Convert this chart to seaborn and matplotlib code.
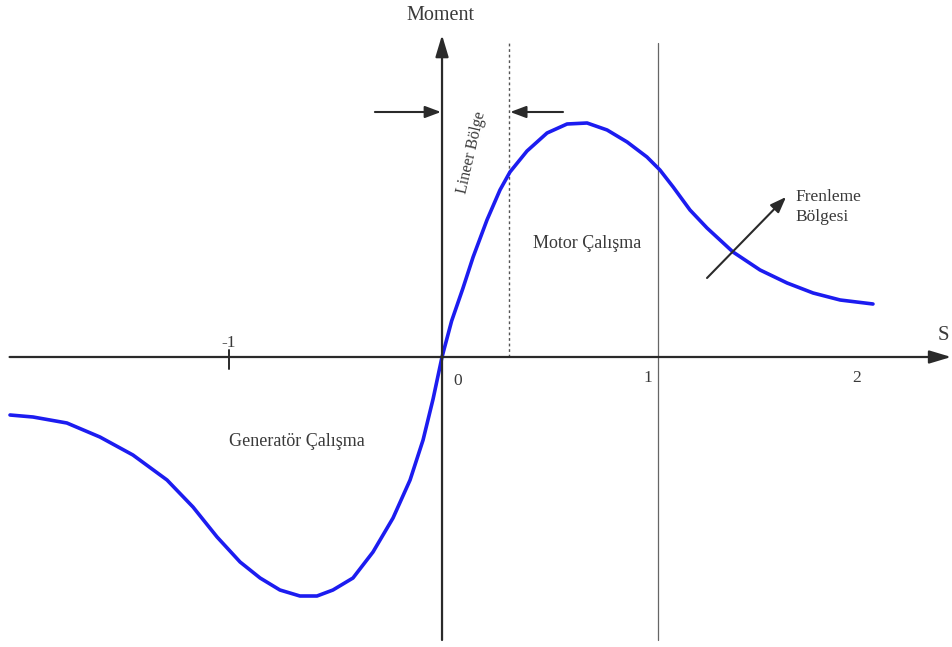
import matplotlib
matplotlib.use("Agg")
import matplotlib.pyplot as plt
import seaborn as sns
import pandas as pd

# Slip (s) and torque (moment) values
slip = [-2.028, -1.920, -1.761, -1.606, -1.451, -1.291, -1.169, -1.056, -0.948,
        -0.854, -0.761, -0.667, -0.587, -0.512, -0.418, -0.324, -0.230, -0.150,
        -0.089, -0.042, 0.0, 0.045, 0.097, 0.146, 0.211, 0.272, 0.319,
        0.399, 0.493, 0.587, 0.681, 0.775, 0.869, 0.962, 1.023, 1.085, 1.164,
        1.244, 1.366, 1.493, 1.620, 1.742, 1.869, 2.023]
moment = [-0.58, -0.60, -0.66, -0.80, -0.98, -1.23, -1.50, -1.80, -2.05,
          -2.21, -2.33, -2.39, -2.39, -2.33, -2.21, -1.95, -1.61, -1.23,
          -0.83, -0.42, 0.0, 0.36, 0.68, 1.00, 1.37, 1.67, 1.85,
          2.06, 2.24, 2.33, 2.34, 2.27, 2.15, 2.00, 1.87, 1.70, 1.47,
          1.29, 1.05, 0.87, 0.74, 0.64, 0.57, 0.53]

tick_values = [-1, 0, 1, 2]
tick_labels = ["-1", "0", "1", "2"]
linear_limit = 0.315
rated_slip = 1.014

sns.set_theme(style="white")
plt.rcParams['font.family'] = ['Liberation Serif', 'DejaVu Serif']

fig = plt.figure(figsize=(9.52, 6.47), dpi=100)
ax = fig.add_axes([0, 0, 1, 1])
ax.set_xlim(-2.075, 2.394)
ax.set_ylim(-2.90, 3.57)
ax.set_axis_off()

txt = "#3a3a3a"
axc = "#2a2a2a"

# axes with arrows
ax.annotate("", xy=(2.39, 0), xytext=(-2.03, 0),
            arrowprops=dict(arrowstyle="-|>,head_length=1.1,head_width=0.33",
                            color=axc, lw=1.6, shrinkA=0, shrinkB=0))
ax.annotate("", xy=(0, 3.22), xytext=(0, -2.83),
            arrowprops=dict(arrowstyle="-|>,head_length=1.1,head_width=0.33",
                            color=axc, lw=1.6, shrinkA=0, shrinkB=0))
# tick at -1
ax.plot([-1, -1], [0.07, -0.12], color=axc, lw=1.4)

# vertical region lines
ax.plot([linear_limit, linear_limit], [0, 3.14], color="#555555", lw=1.0,
        ls=(0, (2, 2)))
ax.plot([rated_slip, rated_slip], [-2.83, 3.14], color="#666666", lw=0.9)

# curve
df = pd.DataFrame({"s": slip, "M": moment})
sns.lineplot(data=df, x="s", y="M", ax=ax, color="#1c1cf0", lw=2.6,
             estimator=None, sort=False, solid_joinstyle="round",
             solid_capstyle="round")

# linear region arrows
ax.annotate("", xy=(-0.005, 2.45), xytext=(-0.315, 2.45),
            arrowprops=dict(arrowstyle="-|>,head_length=0.8,head_width=0.3",
                            color=axc, lw=1.5, shrinkA=0, shrinkB=0))
ax.annotate("", xy=(0.32, 2.45), xytext=(0.568, 2.45),
            arrowprops=dict(arrowstyle="-|>,head_length=0.8,head_width=0.3",
                            color=axc, lw=1.5, shrinkA=0, shrinkB=0))
# braking region arrow
ax.annotate("", xy=(1.615, 1.60), xytext=(1.244, 0.79),
            arrowprops=dict(arrowstyle="-|>,head_length=0.8,head_width=0.3",
                            color=axc, lw=1.5, shrinkA=0, shrinkB=0))

# texts
ax.text(-0.009, 3.42, "Moment", ha="center", va="center", fontsize=14.5, color=txt)
ax.text(2.352, 0.22, "S", ha="center", va="center", fontsize=15, color=txt)
offsets = {-1: (-1.0, 0.14), 0: (0.075, -0.24), 1: (0.967, -0.21), 2: (1.944, -0.21)}
for v, lab in zip(tick_values, tick_labels):
    x, y = offsets[v]
    ax.text(x, y, lab, ha="center", va="center", fontsize=12.5, color=txt)

ax.text(0.141, 2.05, "Lineer Bölge", ha="center", va="center", fontsize=11.5,
        rotation=77, color=txt, rotation_mode="anchor")
ax.text(0.681, 1.14, "Motor Çalışma", ha="center", va="center", fontsize=13, color=txt)
ax.text(-0.681, -0.85, "Generatör Çalışma", ha="center", va="center", fontsize=13, color=txt)
ax.text(1.657, 1.50, "Frenleme\nBölgesi", ha="left", va="center", fontsize=12.5,
        color=txt, linespacing=1.3)

fig.savefig("out.png", dpi=100)
